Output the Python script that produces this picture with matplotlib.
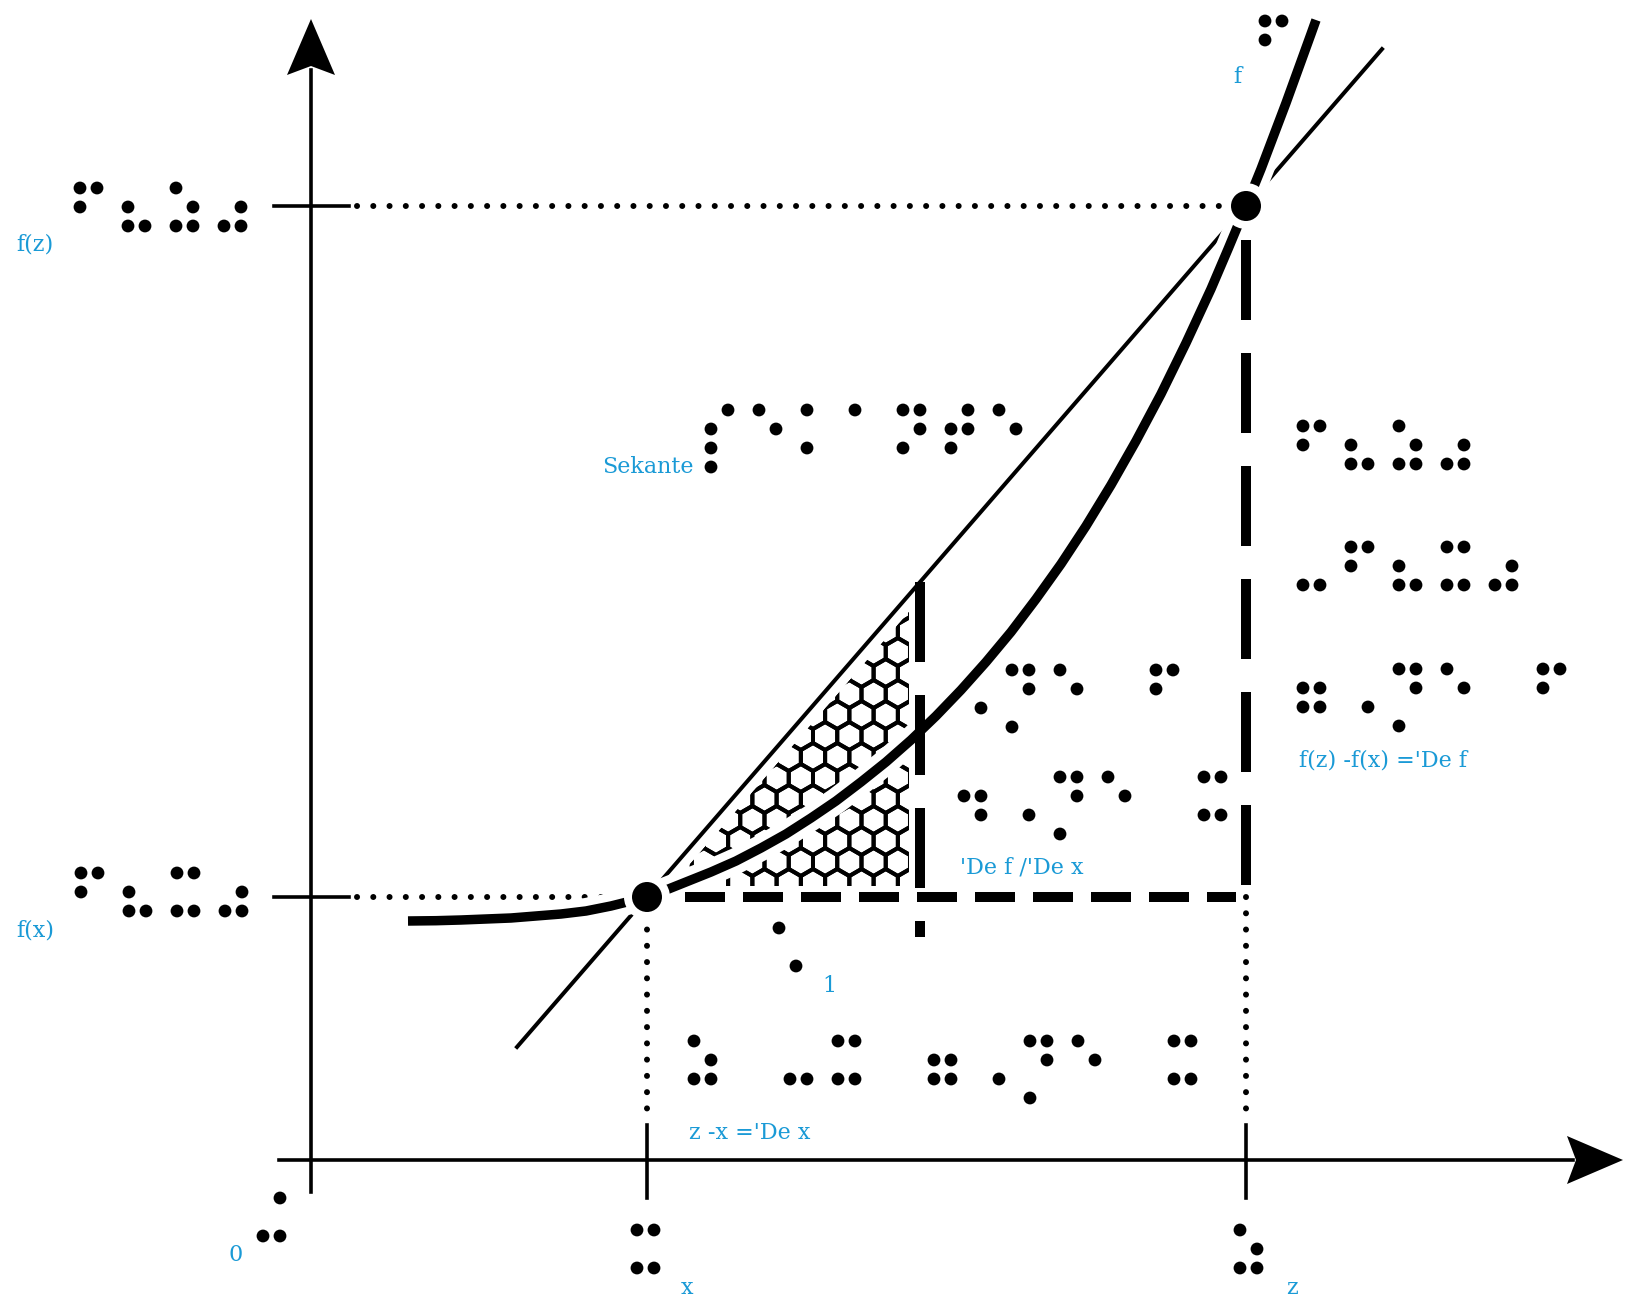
import numpy as np
import matplotlib
matplotlib.use("Agg")
import matplotlib.pyplot as plt
from matplotlib.patches import Circle, Polygon
from matplotlib.collections import PatchCollection, PolyCollection

# coordinates: origin where the axes cross, 1 unit = 1 pixel of the picture
# curve f
curve_u = [97, 125, 150, 175, 200, 225, 250, 275, 300, 336, 350, 375, 400,
           425, 450, 475, 500, 525, 550, 575, 600, 625, 650, 675, 700, 725,
           750, 775, 800, 825, 850, 875, 900, 917.5, 935, 950, 975, 1000,
           1005]
curve_v = [239, 239.3, 240, 241, 242, 244, 246, 249, 254, 263, 268, 278,
           288, 299, 312, 326, 342, 359, 378, 398, 420, 444, 470, 498, 528,
           561, 596, 634, 675, 719, 766, 817, 871, 912, 954, 991, 1057, 1126,
           1140]

x_pos = 336      # x on the axis
z_pos = 935      # z on the axis
step_pos = 609   # x + 1
fx = 263         # f(x)
fz = 954         # f(z)
secant_range = [206, 1071]

# braille labels (8-dot computer braille): text, u and v of the first dot
braille_labels = [
    ("f(z)", -231, 972),
    ("f(x)", -230, 287),
    ("Sekante", 400, 750),
    ("f(z)", 992, 734),
    ("-f(x)", 992, 613),
    ("='De f", 992, 491),
    ("'De f", 653, 490),
    ("/'De x", 653, 383),
    ("z -x ='De x", 383, 119),
    ("1", 468, 232),
    ("0", -48, -38),
    ("x", 326, -70),
    ("z", 929, -70),
    ("f", 954, 1139),
]

# print labels
text_labels = [
    ("f(z)", -295, 915),
    ("f(x)", -295, 230),
    ("Sekante", 291, 693),
    ("f", 922, 1083),
    ("f(z) -f(x) ='De f", 988, 400),
    ("'De f /'De x", 649, 293),
    ("1", 511, 174),
    ("z -x ='De x", 378, 27),
    ("0", -83, -95),
    ("x", 370, -128),
    ("z", 975, -128),
]

BLUE = "#1a9ad6"
PT = 0.72  # points per pixel at dpi 100

BRAILLE = {'a': '1', 'd': '145', 'e': '15', 'f': '124', 'k': '13', 'n': '1345',
           's': '234', 't': '2345', 'x': '1346', 'z': '1356', '(': '236',
           ')': '356', '-': '36', '=': '2356', "'": '6', '/': '256',
           '0': '346', '1': '16', ' ': ''}
DOT_POS = {'1': (0, 0), '2': (0, 1), '3': (0, 2), '4': (1, 0),
           '5': (1, 1), '6': (1, 2), '7': (0, 3), '8': (1, 3)}


def braille(ax, text, u0, v0, cell=48, dx=17, dy=19, r=6.4):
    dots = []
    for i, ch in enumerate(text):
        code = BRAILLE[ch.lower()] + ('7' if ch.isupper() else '')
        for d in code:
            col, row = DOT_POS[d]
            dots.append(Circle((u0 + i * cell + col * dx, v0 - row * dy), r))
    ax.add_collection(PatchCollection(dots, facecolor='black',
                                      edgecolor='none', zorder=8))


def honeycomb(ax, tri, r=14, inset=11):
    tri = np.array(tri, float)
    a = np.linalg.norm(tri[1] - tri[2])
    b = np.linalg.norm(tri[0] - tri[2])
    c = np.linalg.norm(tri[0] - tri[1])
    inc = (a * tri[0] + b * tri[1] + c * tri[2]) / (a + b + c)
    s = (a + b + c) / 2
    area = np.sqrt(s * (s - a) * (s - b) * (s - c))
    rin = area / s
    inner = inc + (tri - inc) * (rin - inset) / rin

    w = np.sqrt(3) * r
    ang = np.radians(np.arange(6) * 60 + 30)
    lo = tri.min(0) - 2 * r
    hi = tri.max(0) + 2 * r
    hexes = []
    for j, cv in enumerate(np.arange(lo[1], hi[1], 1.5 * r)):
        for cu in np.arange(lo[0], hi[0], w):
            cu2 = cu + (w / 2 if j % 2 else 0)
            hexes.append(np.column_stack([cu2 + r * np.cos(ang),
                                          cv + r * np.sin(ang)]))
    clip = Polygon(inner, closed=True, fc='none', ec='none')
    ax.add_patch(clip)
    coll = PolyCollection(hexes, facecolors='none', edgecolors='black',
                          linewidths=4 * PT, zorder=1)
    ax.add_collection(coll)
    coll.set_clip_path(clip)


def arrow_head(ax, tip, direction, length=56, half=24, notch=9):
    d = np.array(direction, float)
    n = np.array([-d[1], d[0]])
    tip = np.array(tip, float)
    base = tip - d * length
    pts = [tip, base + n * half, tip - d * (length - notch), base - n * half]
    ax.add_patch(Polygon(pts, closed=True, fc='black', ec='none', zorder=6))


def main():
    fig = plt.figure(figsize=(16.3, 13.04), dpi=100)
    ax = fig.add_axes([0, 0, 1, 1])
    ax.set_xlim(-311, 1319)
    ax.set_ylim(-144, 1160)
    ax.axis('off')

    axis_lw = 3.6 * PT
    # axes
    ax.plot([-32, 1262], [0, 0], color='black', lw=axis_lw, zorder=5)
    ax.plot([0, 0], [-32, 1090], color='black', lw=axis_lw, zorder=5)
    arrow_head(ax, (1312, 0), (1, 0))
    arrow_head(ax, (0, 1141), (0, 1))

    # ticks
    for v in (fx, fz):
        ax.plot([-37, 38], [v, v], color='black', lw=axis_lw, zorder=5)
    for u in (x_pos, z_pos):
        ax.plot([u, u], [-38, 35], color='black', lw=axis_lw, zorder=5)

    # dotted guides
    dot_style = dict(color='black', lw=6 * PT, linestyle=(0, (0.01, 2.7)),
                     dash_capstyle='round', zorder=1)
    ax.plot([46, z_pos], [fz, fz], **dot_style)
    ax.plot([46, x_pos], [fx, fx], **dot_style)
    ax.plot([x_pos, x_pos], [fx, 40], **dot_style)
    ax.plot([z_pos, z_pos], [fx, 40], **dot_style)

    # slope triangle pattern
    slope = (fz - fx) / (z_pos - x_pos)
    step_v = fx + slope * (step_pos - x_pos)
    honeycomb(ax, [(x_pos, fx), (step_pos, fx), (step_pos, step_v)])

    # secant
    su = np.array(secant_range, float)
    ax.plot(su, fx + slope * (su - x_pos), color='black', lw=4 * PT,
            zorder=2)

    # curve f with white casing
    ax.plot(curve_u, curve_v, color='white', lw=26 * PT, zorder=3,
            solid_capstyle='butt', solid_joinstyle='round')
    ax.plot(curve_u, curve_v, color='black', lw=9.5 * PT, zorder=4,
            solid_capstyle='butt', solid_joinstyle='round')

    # dashed lines
    dash_lw = 10 * PT
    ax.plot([z_pos, z_pos], [920, fx], color='black', lw=dash_lw,
            linestyle=(0, (8, 3.3)), dash_capstyle='butt', zorder=5)
    ax.plot([step_pos, step_pos], [step_v, fx - 40], color='black',
            lw=dash_lw, linestyle=(0, (8, 3.3)), dash_capstyle='butt',
            zorder=5)
    ax.plot([x_pos + 38, z_pos - 10], [fx, fx], color='black', lw=dash_lw,
            linestyle=(0, (4, 1.8)), dash_capstyle='butt', zorder=5)

    # points
    for u, v in ((x_pos, fx), (z_pos, fz)):
        ax.add_patch(Circle((u, v), 23, fc='white', ec='none', zorder=6))
        ax.add_patch(Circle((u, v), 15, fc='black', ec='none', zorder=7))

    for text, u, v in braille_labels:
        braille(ax, text, u, v)

    for text, u, v in text_labels:
        ax.text(u, v, text, color=BLUE, fontsize=16, family='DejaVu Serif',
                ha='left', va='center', zorder=9)

    fig.savefig("out.png", dpi=100, facecolor='white')


if __name__ == "__main__":
    main()
